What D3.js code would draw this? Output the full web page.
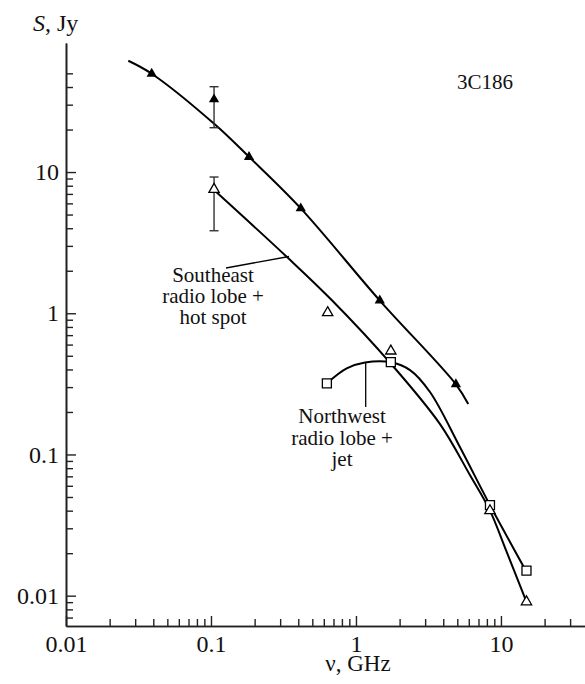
<!DOCTYPE html>
<html>
<head>
<meta charset="utf-8">
<script src="https://cdn.jsdelivr.net/npm/d3@7"></script>
<style>
  body { margin: 0; background: #fff; }
  text { font-family: "Liberation Serif", "Times New Roman", serif; fill: #111; }
</style>
</head>
<body>
<svg id="chart" width="585" height="684"></svg>
<script>
// total flux (filled triangles)
var totalNu = [0.039, 0.105, 0.183, 0.416, 1.46, 4.89];
var totalS  = [49.7, 32.7, 12.8, 5.53, 1.23, 0.314];
// southeast lobe + hot spot (open triangles)
var seNu = [0.105, 0.638, 1.74, 8.4, 15.0];
var seS  = [7.54, 1.01, 0.54, 0.040, 0.00905];
// northwest lobe + jet (open squares)
var nwNu = [0.63, 1.74, 8.4, 15.0];
var nwS  = [0.319, 0.451, 0.0438, 0.01506];
// error bars
var errNu = [0.105, 0.105];
var errLo = [20.6, 3.84];
var errHi = [40.2, 9.22];
// fitted curves
var totalFitNu = [0.0269, 0.039, 0.1066, 0.183, 0.416, 1.46, 4.89, 5.95];
var totalFitS  = [61.4, 49.7, 21.7, 12.8, 5.53, 1.23, 0.314, 0.2275];
var seFitNu = [0.105, 0.336, 0.680, 1.763, 3.80, 6.11, 8.4, 10.83, 15.0];
var seFitS  = [7.46, 2.49, 1.24, 0.433, 0.164, 0.0715, 0.040, 0.0210, 0.00905];
var nwFitNu = [0.63, 0.863, 1.154, 1.74, 2.36, 3.24, 5.21, 8.4, 14.6];
var nwFitS  = [0.319, 0.407, 0.448, 0.450, 0.396, 0.277, 0.113, 0.0438, 0.0155];
// tick labels
var xTickVals = [0.01, 0.1, 1, 10];
var xTickLabels = ["0.01", "0.1", "1", "10"];
var yTickVals = [0.01, 0.1, 1, 10];
var yTickLabels = ["0.01", "0.1", "1", "10"];

var svg = d3.select("#chart");

var x = d3.scaleLog().domain([0.01, 38]).range([66, 585]);
var y = d3.scaleLog().domain([0.0061, 82]).range([626, 43]);

var isMajor = function(v) {
  var l = Math.log10(v);
  return Math.abs(l - Math.round(l)) < 1e-6;
};

var zip = function(a, b) { return a.map(function(v, i) { return [v, b[i]]; }); };

// axes, ticks pointing inward
var gx = svg.append("g").attr("transform", "translate(0,626)");
gx.call(d3.axisBottom(x).tickValues(x.ticks().filter(function(v) { return !isMajor(v); }))
  .tickSize(-7).tickSizeOuter(0).tickFormat(""));
var gx2 = svg.append("g").attr("transform", "translate(0,626)");
gx2.call(d3.axisBottom(x).tickValues(xTickVals).tickSize(-10).tickSizeOuter(0).tickPadding(9)
  .tickFormat(function(d, i) { return xTickLabels[i]; }));

var gy = svg.append("g").attr("transform", "translate(66,0)");
gy.call(d3.axisLeft(y).tickValues(y.ticks().filter(function(v) { return !isMajor(v) && v <= 55; }))
  .tickSize(-7).tickSizeOuter(0).tickFormat(""));
var gy2 = svg.append("g").attr("transform", "translate(66,0)");
gy2.call(d3.axisLeft(y).tickValues(yTickVals).tickSize(-10).tickSizeOuter(0).tickPadding(7)
  .tickFormat(function(d, i) { return yTickLabels[i]; }));

svg.selectAll(".domain").attr("stroke", "#222").attr("stroke-width", 1.6);
svg.selectAll(".tick line").attr("stroke", "#222").attr("stroke-width", 1.4);
svg.selectAll(".tick text").attr("font-size", 24).attr("fill", "#111")
  .attr("font-family", "'Liberation Serif', 'Times New Roman', serif");

// axis titles
var yt = svg.append("text").attr("x", 33).attr("y", 31).attr("font-size", 24);
yt.append("tspan").attr("font-style", "italic").text("S");
yt.append("tspan").text(", Jy");
svg.append("text").attr("x", 358).attr("y", 671).attr("text-anchor", "middle")
  .attr("font-size", 23).text("\u03bd, GHz");

// fitted curves
var line = d3.line().curve(d3.curveCatmullRom.alpha(0.5))
  .x(function(d) { return x(d[0]); }).y(function(d) { return y(d[1]); });
[zip(totalFitNu, totalFitS), zip(seFitNu, seFitS), zip(nwFitNu, nwFitS)].forEach(function(pts) {
  svg.append("path").attr("d", line(pts)).attr("fill", "none")
    .attr("stroke", "#000").attr("stroke-width", 2);
});

// error bars
var eb = svg.append("g").attr("stroke", "#333").attr("stroke-width", 1.4);
errNu.forEach(function(nu, i) {
  var cx = x(nu);
  eb.append("line").attr("x1", cx).attr("x2", cx).attr("y1", y(errHi[i])).attr("y2", y(errLo[i]));
  eb.append("line").attr("x1", cx - 4.5).attr("x2", cx + 4.5).attr("y1", y(errHi[i])).attr("y2", y(errHi[i]));
  eb.append("line").attr("x1", cx - 4.5).attr("x2", cx + 4.5).attr("y1", y(errLo[i])).attr("y2", y(errLo[i]));
});

// markers
var tri = d3.symbol().type(d3.symbolTriangle).size(46);
var sq = d3.symbol().type(d3.symbolSquare).size(81);

svg.append("g").selectAll("path").data(zip(nwNu, nwS)).enter()
  .append("path").attr("d", sq)
  .attr("transform", function(d) { return "translate(" + x(d[0]) + "," + y(d[1]) + ")"; })
  .attr("fill", "#fff").attr("stroke", "#000").attr("stroke-width", 1.3);

svg.append("g").selectAll("path").data(zip(seNu, seS)).enter()
  .append("path").attr("d", tri)
  .attr("transform", function(d) { return "translate(" + x(d[0]) + "," + y(d[1]) + ")"; })
  .attr("fill", "#fff").attr("stroke", "#000").attr("stroke-width", 1.3);

svg.append("g").selectAll("path").data(zip(totalNu, totalS)).enter()
  .append("path").attr("d", tri)
  .attr("transform", function(d) { return "translate(" + x(d[0]) + "," + y(d[1]) + ")"; })
  .attr("fill", "#000");

// labels
svg.append("text").attr("x", 457).attr("y", 89).attr("font-size", 21).text("3C186");

var seLab = svg.append("text").attr("text-anchor", "middle").attr("font-size", 21);
["Southeast", "radio lobe +", "hot spot"].forEach(function(s, i) {
  seLab.append("tspan").attr("x", 213).attr("y", 282 + i * 21).text(s);
});
svg.append("line").attr("x1", 226).attr("y1", 268).attr("x2", 289).attr("y2", 256.5)
  .attr("stroke", "#000").attr("stroke-width", 1.3);

var nwLab = svg.append("text").attr("text-anchor", "middle").attr("font-size", 21);
["Northwest", "radio lobe +", "jet"].forEach(function(s, i) {
  nwLab.append("tspan").attr("x", 342).attr("y", 423 + i * 21.5).text(s);
});
svg.append("line").attr("x1", 365.7).attr("y1", 363).attr("x2", 365.7).attr("y2", 407)
  .attr("stroke", "#000").attr("stroke-width", 1.3);
</script>
</body>
</html>
